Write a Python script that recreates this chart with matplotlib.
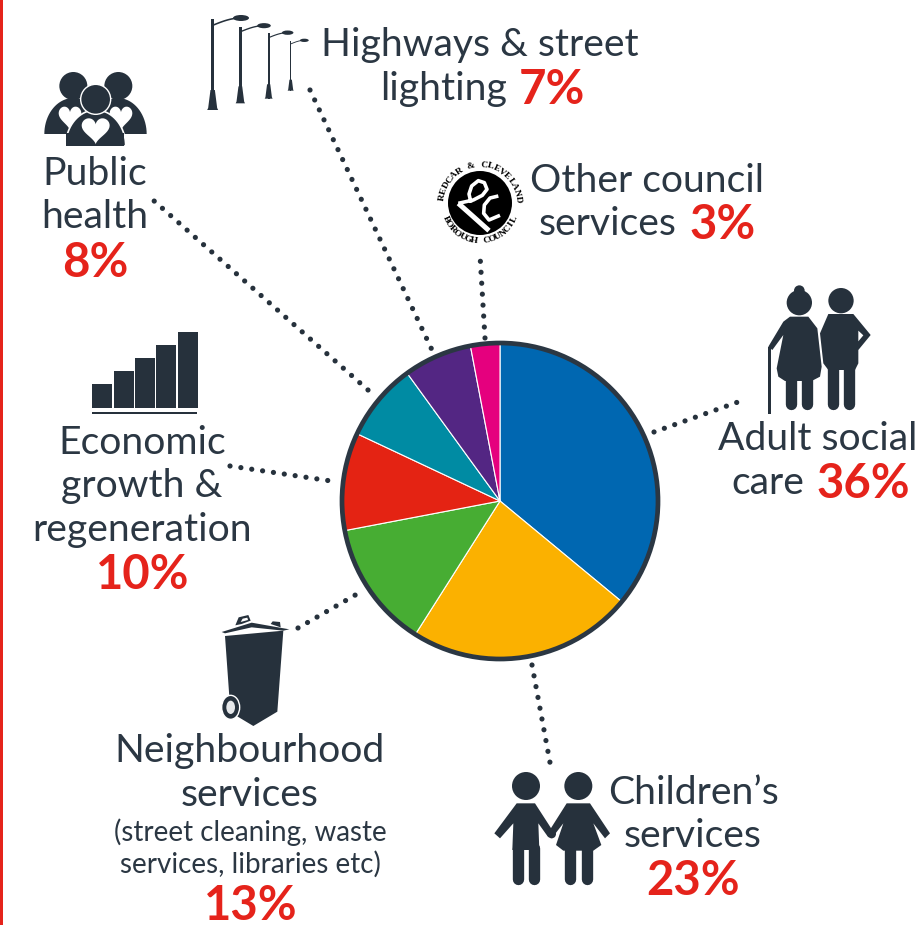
import matplotlib
matplotlib.use('Agg')
import matplotlib.pyplot as plt
from matplotlib.patches import Circle, Ellipse, Polygon, Rectangle
import numpy as np

shares = [36, 23, 13, 10, 8, 7, 3]
sliceColors = ['#0067b1', '#fbb100', '#47ad33', '#e42313', '#008ba3', '#532683', '#e5007e']

dark = '#26313c'
textGrey = '#2b3743'
red = '#e5231b'
W, H = 924, 925
pieCx, pieCy, pieR = 500, 501, 158

plt.rcParams['font.family'] = ['Lato', 'DejaVu Sans']
fig = plt.figure(figsize=(W / 100, H / 100), dpi=100)

# pixel coordinate overlay for text and icons
ov = fig.add_axes([0, 0, 1, 1], zorder=2)
ov.set_xlim(0, W)
ov.set_ylim(H, 0)
ov.axis('off')
ov.patch.set_alpha(0)

pieAx = fig.add_axes([(pieCx - pieR) / W, 1 - (pieCy + pieR) / H, 2 * pieR / W, 2 * pieR / H], zorder=1)
pieAx.pie(shares, colors=sliceColors, startangle=90, counterclock=False, radius=1,
          wedgeprops={'edgecolor': 'white', 'linewidth': 0.8})
pieAx.set_xlim(-1, 1)
pieAx.set_ylim(-1, 1)
ov.add_patch(Circle((pieCx, pieCy), pieR, fc='none', ec=textGrey, lw=3.4))

ov.add_patch(Rectangle((0, 0), 2.5, H, fc=red, ec='none'))


def pt(px):
    return px * 0.72


def leader(x0, y0, x1, y1):
    ov.plot([x0, x1], [y0, y1], color=dark, lw=pt(5.2), ls=(0, (0.01, 2.1)),
            dash_capstyle='round', zorder=3)


leader(654, 432, 738, 402)
leader(532, 665, 551, 768)
leader(298, 628, 364, 590)
leader(230, 466, 338, 482)
leader(368, 390, 153, 200)
leader(310, 90, 432, 350)
leader(485, 338, 480, 255)


def label(x, y, s, ha='center', size=28.2):
    ov.text(x, y, s, ha=ha, va='baseline', fontsize=size, color=textGrey)


def pct(x, y, s, ha='center'):
    ov.text(x, y, s, ha=ha, va='baseline', fontsize=34, color=red, fontweight='bold')


label(480, 56, 'Highways & street')
label(507, 100, 'lighting', ha='right')
pct(519, 104, '7%', ha='left')

label(95, 185, 'Public')
label(95, 228, 'health')
pct(95, 277, '8%')

label(647, 192, 'Other council')
label(677, 235, 'services', ha='right')
pct(689, 239, '3%', ha='left')

label(818, 450, 'Adult social')
label(804, 494, 'care', ha='right')
pct(816, 498, '36%', ha='left')

label(142, 454, 'Economic')
label(142, 497, 'growth &')
label(142, 541, 'regeneration')
pct(143, 589, '10%')

label(250, 762, 'Neighbourhood')
label(250, 806, 'services')
label(250, 841, '(street cleaning, waste', size=20)
label(250, 873, 'services, libraries etc)', size=20)
pct(251, 920, '13%')

label(693, 804, 'Children\u2019s')
label(693, 847, 'services')
pct(693, 895, '23%')


def zoomed(pts, ox, oy):
    return [(ox + a / 3, oy + b / 3) for a, b in pts]


def poly(pts, ox, oy, fc=dark, **kw):
    ov.add_patch(Polygon(zoomed(pts, ox, oy), closed=True, fc=fc, ec=kw.pop('ec', 'none'), **kw))


def disc(x, y, r, ox, oy, fc=dark, **kw):
    ov.add_patch(Circle((ox + x / 3, oy + y / 3), r / 3, fc=fc, ec=kw.pop('ec', 'none'), **kw))


def limb(xs, ys, width, ox, oy):
    ov.plot([ox + a / 3 for a in xs], [oy + b / 3 for b in ys], color=dark, lw=pt(width / 3),
            solid_capstyle='round')


# elderly couple
ox, oy = 740, 270
disc(178, 98, 38, ox, oy)
disc(178, 62, 16, ox, oy)
poly([(150, 140), (205, 140), (232, 175), (245, 290), (240, 320), (215, 333), (135, 333), (115, 320),
      (110, 295), (130, 195), (97, 240), (85, 230), (130, 155)], ox, oy)
limb([152, 152], [330, 403], 34, ox, oy)
limb([202, 202], [330, 403], 34, ox, oy)
ov.add_patch(Rectangle((ox + 84 / 3, oy + 230 / 3), 9 / 3, 202 / 3, fc=dark, ec='none'))
disc(303, 92, 38, ox, oy)
poly([(265, 132), (340, 132), (392, 195), (355, 240), (355, 280), (345, 300), (265, 300), (250, 280),
      (240, 190)], ox, oy)
poly([(355, 182), (370, 196), (355, 214)], ox, oy, fc='white')
limb([278, 278], [295, 403], 34, ox, oy)
limb([328, 328], [295, 403], 34, ox, oy)

# children
ox, oy = 480, 760
disc(138, 78, 42, ox, oy)
poly([(110, 130), (165, 130), (218, 212), (205, 232), (175, 190), (178, 270), (97, 270), (100, 190),
      (60, 235), (43, 220)], ox, oy)
limb([114, 114], [265, 356], 34, ox, oy)
limb([161, 161], [265, 356], 34, ox, oy)
disc(295, 78, 42, ox, oy)
poly([(260, 130), (330, 130), (390, 220), (375, 235), (340, 190), (364, 255), (340, 272), (250, 272),
      (228, 255), (250, 190), (215, 235), (203, 220)], ox, oy)
limb([270, 270], [265, 356], 34, ox, oy)
limb([320, 320], [265, 356], 34, ox, oy)
disc(215, 222, 13, ox, oy)

# wheelie bin
ox, oy = 200, 600
poly([(75, 108), (250, 92), (232, 335), (160, 378), (105, 345), (88, 290)], ox, oy)
poly([(65, 96), (155, 68), (268, 88), (250, 92), (155, 82), (75, 100)], ox, oy)
poly([(106, 76), (116, 52), (145, 45), (152, 62), (125, 72)], ox, oy)
poly([(122, 66), (128, 56), (142, 53), (144, 60)], ox, oy, fc='white')
poly([(212, 72), (218, 64), (240, 66), (242, 82)], ox, oy)
ov.add_patch(Ellipse((ox + 92 / 3, oy + 322 / 3), 54 / 3, 72 / 3, fc=dark, ec='white', lw=1))
ov.add_patch(Ellipse((ox + 92 / 3, oy + 322 / 3), 26 / 3, 40 / 3, fc='#e6e8ea', ec='none'))


# public health group
def shoulders(cx, baseY, rx, ry, **kw):
    t = np.linspace(np.pi, 2 * np.pi, 40)
    pts = list(zip(cx + rx * np.cos(t), baseY + ry * np.sin(t)))
    poly(pts, 0, 0, **kw)


def heart(cx, top, w, h):
    t = np.linspace(0, 2 * np.pi, 60)
    hx = np.sin(t) ** 3
    hy = (13 * np.cos(t) - 5 * np.cos(2 * t) - 2 * np.cos(3 * t) - np.cos(4 * t))
    hy = (hy.max() - hy) / (hy.max() - hy.min())
    poly(list(zip(cx + hx * w / 2, top + hy * h)), 0, 0, fc='white')


disc(220, 258, 42, 0, 0)
disc(355, 258, 42, 0, 0)
shoulders(220, 402, 87, 108)
shoulders(353, 402, 87, 108)
heart(210, 320, 68, 72)
heart(363, 320, 68, 72)
shoulders(287, 438, 90, 108, ec='white', lw=1.2)
ov.add_patch(Rectangle((199 / 3, 400 / 3), 174 / 3, 38 / 3, fc=dark, ec='none'))
disc(287, 298, 45, 0, 0, ec='white', lw=1.0)
heart(287, 355, 84, 78)


# street lamps
def lamp(x, top, bottom, hx, hy, s):
    x, top, bottom, hx, hy = x / 3, top / 3, bottom / 3, hx / 3, hy / 3
    ov.add_patch(Rectangle((x - 1.5 * s, top), 3 * s, bottom - top, fc=dark, ec='none'))
    ov.add_patch(Polygon([(x - 2.2 * s, bottom - 20 * s), (x + 2.2 * s, bottom - 20 * s), (x + 4.5 * s, bottom - 2 * s),
                          (x + 5.5 * s, bottom), (x - 5.5 * s, bottom), (x - 4.5 * s, bottom - 2 * s)], fc=dark, ec='none'))
    t = np.linspace(0, 1, 20)
    ax_x = x + (hx - x) * t
    ax_y = top + 6 * s - (top + 6 * s - hy) * np.sin(t * np.pi / 2)
    ov.plot(ax_x, ax_y, color=dark, lw=pt(1.6 * s))
    ov.add_patch(Ellipse((hx, hy), 16 * s, 6 * s, fc=dark, ec='none'))


lamp(638, 58, 330, 723, 54, 1.0)
lamp(721, 80, 310, 792, 77, 0.85)
lamp(806, 100, 296, 863, 98, 0.72)
lamp(872, 122, 272, 913, 121, 0.55)

# growth bars
barLefts = [92, 114, 135, 156, 178]
barTops = [384, 371, 358, 345, 332]
for bx, bt in zip(barLefts, barTops):
    ov.add_patch(Rectangle((bx, bt), 19.5, 408 - bt, fc=dark, ec='none'))
ov.add_patch(Rectangle((92, 412), 105, 2, fc=dark, ec='none'))

# council logo
logoX, logoY = 480, 203
ov.add_patch(Circle((logoX, logoY), 32, fc='black', ec='none'))


def stroke(pts, width):
    xs, ys = zip(*zoomed(pts, 445, 170))
    ov.plot(xs, ys, color='white', lw=pt(width), solid_capstyle='butt', solid_joinstyle='round')


stroke([(78, 98), (72, 72), (80, 48), (100, 32), (118, 38), (126, 58), (112, 76), (85, 90), (40, 100)], 3.6)
stroke([(40, 100), (85, 140), (132, 182)], 5)
stroke([(160, 78), (135, 84), (118, 105), (116, 130), (132, 150), (165, 136)], 3.6)


def ringText(s, a0, a1, r, flip=False):
    for ch, a in zip(s, np.linspace(a0, a1, len(s))):
        rad = np.radians(a)
        rot = a - 90 if not flip else a + 90
        ov.text(logoX + r * np.cos(rad), logoY - r * np.sin(rad), ch, fontsize=6.8, color='black',
                family='Liberation Serif', fontweight='bold', rotation=rot, rotation_mode='anchor',
                ha='center', va='center')


ringText('REDCAR & CLEVELAND', 172, 6, 38)
ringText('BOROUGH COUNCIL', 205, 335, 38, flip=True)

fig.savefig('out.png', dpi=100)
